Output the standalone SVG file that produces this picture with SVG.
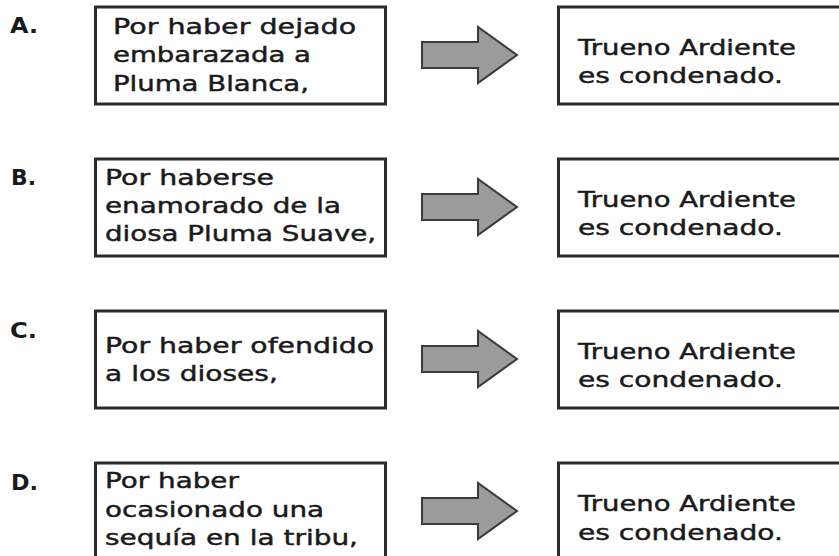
<svg xmlns="http://www.w3.org/2000/svg" xmlns:xlink="http://www.w3.org/1999/xlink" width="839" height="556" viewBox="0 0 839 556">
<style>
.bg{fill:#ffffff}
.box{fill:#ffffff;stroke:#2a2a2a;stroke-width:3}
.t{font-family:"DejaVu Sans",Verdana,"Liberation Sans",sans-serif;font-size:21.5px;fill:#1a1a1a;stroke:#1a1a1a;stroke-width:0.45}
.lbl{font-weight:bold;stroke-width:0}
.arr{fill:#9b9b9b;stroke:#3a3a3a;stroke-width:2;stroke-linejoin:miter}
</style>
<defs>
<path id="arrow" class="arr" d="M422,-13 L478,-13 L478,-28 L517,0 L478,28 L478,13 L422,13 Z"/>
</defs>
<rect class="bg" x="0" y="0" width="839" height="556"/>

<g id="connectors">
<use xlink:href="#arrow" href="#arrow" y="55"/>
<use xlink:href="#arrow" href="#arrow" y="207"/>
<use xlink:href="#arrow" href="#arrow" y="359"/>
<use xlink:href="#arrow" href="#arrow" y="511"/>
</g>

<g id="rowA">
<g transform="translate(10,0) scale(1.3,1)"><text class="t lbl" x="0" y="33.5" textLength="21.5" lengthAdjust="spacingAndGlyphs">A.</text></g>
<g id="causeA">
<rect class="box" x="95.5" y="7" width="290" height="97"/>
<g transform="translate(113,0) scale(1.3,1)">
<text class="t" x="0" y="34" textLength="187" lengthAdjust="spacingAndGlyphs">Por haber dejado</text>
<text class="t" x="0" y="62.5" textLength="152.3" lengthAdjust="spacingAndGlyphs">embarazada a</text>
<text class="t" x="0" y="91" textLength="150.8" lengthAdjust="spacingAndGlyphs">Pluma Blanca,</text>
</g>
</g>
<g id="effectA">
<rect class="box" x="558.5" y="7" width="300" height="97"/>
<g transform="translate(578,0) scale(1.3,1)">
<text class="t" x="0" y="55.5" textLength="167.7" lengthAdjust="spacingAndGlyphs">Trueno Ardiente</text>
<text class="t" x="0" y="83.5" textLength="157.7" lengthAdjust="spacingAndGlyphs">es condenado.</text>
</g>
</g>
</g>

<g id="rowB">
<g transform="translate(11,0) scale(1.3,1)"><text class="t lbl" x="0" y="185.5" textLength="19.2" lengthAdjust="spacingAndGlyphs">B.</text></g>
<g id="causeB">
<rect class="box" x="95.5" y="159" width="290" height="97"/>
<g transform="translate(105,0) scale(1.3,1)">
<text class="t" x="0" y="185.5" textLength="130" lengthAdjust="spacingAndGlyphs">Por haberse</text>
<text class="t" x="0" y="213.5" textLength="181.5" lengthAdjust="spacingAndGlyphs">enamorado de la</text>
<text class="t" x="0" y="241" textLength="208.5" lengthAdjust="spacingAndGlyphs">diosa Pluma Suave,</text>
</g>
</g>
<g id="effectB">
<rect class="box" x="558.5" y="159" width="300" height="97"/>
<g transform="translate(578,0) scale(1.3,1)">
<text class="t" x="0" y="207.5" textLength="167.7" lengthAdjust="spacingAndGlyphs">Trueno Ardiente</text>
<text class="t" x="0" y="235.5" textLength="157.7" lengthAdjust="spacingAndGlyphs">es condenado.</text>
</g>
</g>
</g>

<g id="rowC">
<g transform="translate(10,0) scale(1.3,1)"><text class="t lbl" x="0" y="338.5" textLength="20.8" lengthAdjust="spacingAndGlyphs">C.</text></g>
<g id="causeC">
<rect class="box" x="95.5" y="311" width="290" height="97"/>
<g transform="translate(105,0) scale(1.3,1)">
<text class="t" x="0" y="353.5" textLength="207" lengthAdjust="spacingAndGlyphs">Por haber ofendido</text>
<text class="t" x="0" y="381.5" textLength="133" lengthAdjust="spacingAndGlyphs">a los dioses,</text>
</g>
</g>
<g id="effectC">
<rect class="box" x="558.5" y="311" width="300" height="97"/>
<g transform="translate(578,0) scale(1.3,1)">
<text class="t" x="0" y="359.5" textLength="167.7" lengthAdjust="spacingAndGlyphs">Trueno Ardiente</text>
<text class="t" x="0" y="387.5" textLength="157.7" lengthAdjust="spacingAndGlyphs">es condenado.</text>
</g>
</g>
</g>

<g id="rowD">
<g transform="translate(11,0) scale(1.3,1)"><text class="t lbl" x="0" y="490.5" textLength="20.8" lengthAdjust="spacingAndGlyphs">D.</text></g>
<g id="causeD">
<rect class="box" x="95.5" y="463" width="290" height="97"/>
<g transform="translate(105,0) scale(1.3,1)">
<text class="t" x="0" y="488.5" textLength="103" lengthAdjust="spacingAndGlyphs">Por haber</text>
<text class="t" x="0" y="517.5" textLength="168.5" lengthAdjust="spacingAndGlyphs">ocasionado una</text>
<text class="t" x="0" y="545.5" textLength="194.6" lengthAdjust="spacingAndGlyphs">sequía en la tribu,</text>
</g>
</g>
<g id="effectD">
<rect class="box" x="558.5" y="463" width="300" height="97"/>
<g transform="translate(578,0) scale(1.3,1)">
<text class="t" x="0" y="511.5" textLength="167.7" lengthAdjust="spacingAndGlyphs">Trueno Ardiente</text>
<text class="t" x="0" y="540.5" textLength="157.7" lengthAdjust="spacingAndGlyphs">es condenado.</text>
</g>
</g>
</g>
</svg>
